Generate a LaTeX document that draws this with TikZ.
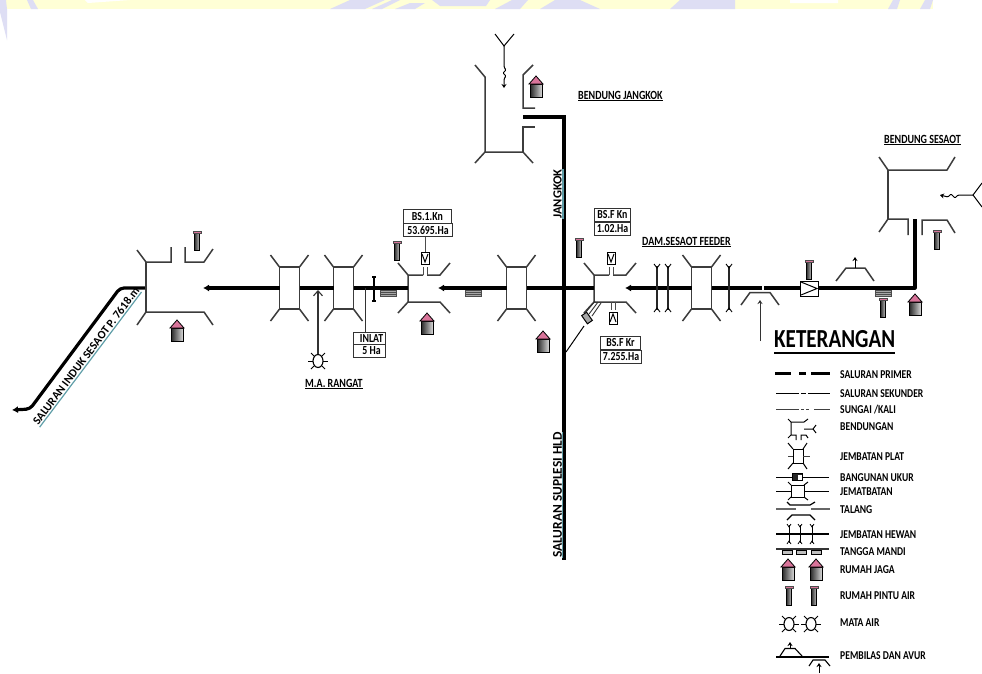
\documentclass[tikz,border=0pt]{standalone}
\usepackage{fontspec}
\usepackage{graphicx}
\setmainfont{Carlito}
\usetikzlibrary{arrows.meta}
\definecolor{wblue}{HTML}{DEDEF4}
\definecolor{wyel}{HTML}{FFFFD6}
\definecolor{pinkroof}{HTML}{D9749A}
\definecolor{strucol}{HTML}{3C3C3C}
\definecolor{ulteal}{HTML}{5F9EA8}
\newcommand{\tx}[1]{\scalebox{.8}[1]{#1}}
\tikzset{
  x=1pt,y=-1pt,
  primer/.style={line width=3.2pt,black},
  stru/.style={line width=1.5pt,strucol},
  lbl/.style={inner sep=0pt,font=\bfseries\fontsize{12.5}{12.5}\selectfont,text=black},
  boxlbl/.style={draw=black!80,line width=.8pt,fill=white,inner xsep=2pt,inner ysep=1pt,font=\fontsize{12.3}{12.3}\selectfont\bfseries,text=black,minimum height=13.5pt,anchor=west},
  head/.style={-{Latex[length=6pt,width=7pt]}},
  smallhead/.style={-{Stealth[length=4pt,width=5pt]}},
  pics/rumah/.style={code={
    \fill[left color=black!85,right color=white!85!black,draw=black,line width=.5pt] (-6,8) rectangle (6,21);
    \fill[pinkroof,draw=black,line width=.8pt] (0,0) -- (-7,8) -- (7,8) -- cycle;
  }},
  pics/pintu/.style={code={
    \fill[left color=black!80,right color=black!25,draw=black,line width=.5pt] (-2.5,2) rectangle (2.5,19);
    \fill[pinkroof,draw=black!70,line width=.4pt] (-4,0) rectangle (4,2.5);
  }},
  pics/mata/.style={code={
    \draw[line width=1.1pt,black] (0,0) ellipse (5 and 6.5);
    \draw[line width=1pt,black] (-4,-5) -- (-7,-8) (4,-5) -- (7,-8) (-4,5) -- (-7,8) (4,5) -- (7,8);
    \draw[line width=1pt,black] (-10,0) -- (-5,0) (5,0) -- (10,0);
  }},
  pics/jembatan/.style={code={
    \draw[stru] (-10,-21) rectangle (10,21);
    \draw[stru] (-10,-21) -- (-19,-33) (10,-21) -- (19,-33) (-10,21) -- (-19,33) (10,21) -- (19,33);
    \coordinate (-w) at (-10,0); \coordinate (-e) at (10,0);
  }},
  pics/bagi/.style={code={
    \draw[stru] (-10,-13) -- (-10,14) (-10,-13) -- (-20,-25) (-10,14) -- (-20,25);
    \draw[stru] (-10,14) -- (22,14) -- (32,25);
    \draw[stru] (-10,-13) -- (5,-13) (9,-13) -- (22,-13) -- (32,-25);
    \draw[line width=.9pt,black!70] (5,-13) -- (5,-21) (9,-13) -- (9,-21);
    \draw[black,line width=.8pt,fill=white] (3,-36) rectangle (11,-24);
    \draw[black,line width=1pt] (4,-34) -- (7,-26) -- (10,-34);
    \coordinate (-w) at (-10,0); \coordinate (-e) at (22,0); \coordinate (-n) at (7,-36);
  }},
  pics/tangga/.style={code={
    \fill[black!35,draw=black!70,line width=.6pt] (-8,0) rectangle (8,6);
    \draw[black!70,line width=.6pt] (-8,2) -- (8,2) (-8,4) -- (8,4);
  }},
  pics/tiang/.style={code={
    \draw[line width=1.1pt,black!85] (0,-22) -- (0,22);
    \draw[line width=.9pt,black] (-3,-24) -- (0,-20) -- (3,-24) (-3,24) -- (0,20) -- (3,24);
  }}
}
\newcommand{\ulab}[4]{\node[lbl,anchor=west] (#1) at (#2,#3) {\tx{#4}};
  \draw[black,line width=.9pt] ([yshift=-1.5pt]#1.south west) -- ([yshift=-1.5pt]#1.south east);}
\newcommand{\leglab}[3]{\node[lbl,anchor=west,font=\bfseries\fontsize{12}{12}\selectfont] (#1) at (840,#2+1) {\tx{#3}};}
\begin{document}
\begin{tikzpicture}
\useasboundingbox (0,0) rectangle (982,673);
% watermark remnants
\fill[white] (0,0) rectangle (982,673);
\fill[wyel] (0,0) rectangle (933,9);
\fill[white] (85,0) -- (130,0) -- (88,3) -- cycle (790,0) rectangle (838,3);
\fill[wblue] (0,0) -- (6,0) -- (7,9) -- (7,40) -- (0,12) -- cycle;
\fill[wblue] (27,0) -- (33,0) -- (38,9) -- (31,9) -- cycle;
\fill[wblue] (330,9) -- (350,0) -- (385,0) -- (365,9) -- cycle;
\fill[wblue] (372,9) -- (392,0) -- (400,0) -- (382,9) -- cycle;
\fill[wblue] (395,9) -- (410,3) -- (425,3) -- (415,9) -- cycle;
\fill[wblue] (432,0) -- (490,0) -- (486,6) -- (440,6) -- cycle;
\fill[wblue] (495,9) -- (512,0) -- (528,0) -- (520,9) -- cycle;
\fill[wblue] (540,9) -- (555,0) -- (580,0) -- (600,9) -- cycle;
\fill[wblue] (670,9) -- (680,0) -- (735,0) -- (735,9) -- cycle;
\fill[wblue] (888,9) -- (893,0) -- (900,0) -- (897,9) -- cycle;
\fill[wblue] (920,9) -- (925,0) -- (933,0) -- (930,9) -- cycle;

% ---- main primary canal ----
\coordinate (sesaotA) at (915,219);
\coordinate (sesaotB) at (915,288);
\coordinate (ukurE) at (818,288);
\coordinate (ukurW) at (800,288);
\coordinate (gap) at (763,288);
\coordinate (kiriA) at (120,288);
\coordinate (kiriB) at (30,409);
\coordinate (kiriC) at (12,410);
\coordinate (jkA) at (523,117);
\coordinate (jkB) at (564,117);
\coordinate (suplesi) at (564,560);

\pic (b1) at (289.5,288) {jembatan};
\pic (b2) at (343.5,288) {jembatan};
\pic (b3) at (516.5,288) {jembatan};
\pic (b4) at (701.5,288) {jembatan};
\pic (s1) at (418,288) {bagi};
\pic (s2) at (604,288) {bagi};

\draw[primer,line join=round] (ukurW) -- ([xshift=1pt]gap);
\draw[primer] ([xshift=-1pt]gap) -- (b4-e);
\draw[primer] (b4-w) -- ([xshift=21pt]s2-e);
\draw[primer,head] ([xshift=21pt]s2-e) -- ([xshift=-1pt]s2-e);
\draw[primer] (s2-w) -- (b3-e);
\draw[primer,head] (b3-w) -- ([xshift=-2pt]s1-e);
\draw[primer] (s1-w) -- (b2-e);
\draw[primer] (b2-w) -- (b1-e);
\draw[primer,head] (b1-w) -- (203,288);
\draw[primer,line join=round] (ukurE) -- (sesaotB) -- (sesaotA);
\draw[primer,rounded corners=4pt,line join=round,head] (146,288) -- (kiriA) -- (kiriB) -- (kiriC);
\draw[primer,line join=miter] (jkA) -- (jkB) -- (suplesi);

% ---- first structure, left ----
\draw[stru] (146,262) -- (146,312);
\draw[stru] (137,250) -- (146,262) -- (171,262) -- (171,247);
\draw[stru] (185,247) -- (185,262) -- (204,262) -- (213,249);
\draw[stru] (137,325) -- (146,312) -- (204,312) -- (213,325);
\pic at (177,320) {rumah};
\pic at (197,231) {pintu};

% ---- M.A. Rangat ----
\pic (mr) at (318,361) {mata};
\coordinate (mrT) at (318,290);
\draw[line width=1.1pt,black!80,-{Straight Barb[length=5pt,width=9pt]}] (318,354) -- (mrT);
\ulab{rangat}{305}{383}{M.A. RANGAT}

% ---- inlet ----
\draw[line width=1.1pt,black] (374,277) -- (374,301) (372,277) -- (376,277) (372,301) -- (376,301);
\pic at (388,290) {tangga};
\coordinate (inA) at (365,288);
\node[boxlbl,minimum width=32pt,inner xsep=0pt] (inlat1) at (353,339) {\tx{\ \ INLAT}};
\node[boxlbl,minimum width=32pt,inner xsep=0pt] (inlat2) at (353,351) {\tx{\ \ 5 Ha}};
\draw[line width=.9pt,black!80] (inA) -- (365,332);

% ---- BS.1 ----
\node[boxlbl,minimum width=48pt,inner xsep=4pt] (bs1a) at (403,216.5) {\tx{BS.1.Kn}};
\node[boxlbl,minimum width=48pt,inner xsep=4pt] (bs1b) at (403,230) {\tx{53.695.Ha}};
\draw[line width=.8pt,black!70] (bs1b.south -| s1-n) -- (s1-n);
\pic at (397,241) {pintu};
\pic at (427,313) {rumah};
\pic at (473,290) {tangga};
\pic at (543,331) {rumah};

% ---- BS.F ----
\node[boxlbl,minimum width=36pt,inner xsep=2.5pt] (bsfa) at (594,215) {\tx{BS.F Kn}};
\node[boxlbl,minimum width=36pt,inner xsep=2.5pt] (bsfb) at (594,229) {\tx{1.02.Ha}};
\node[boxlbl,minimum width=40pt,inner xsep=2.5pt] (bsra) at (600,343) {\tx{BS.F Kr}};
\node[boxlbl,minimum width=40pt,inner xsep=2.5pt] (bsrb) at (600,357) {\tx{7.255.Ha}};
\pic at (579,238) {pintu};
\draw[line width=.9pt,black!70] (611,302) -- (611,310) (615,302) -- (615,310);
\draw[black,line width=.8pt,fill=white] (609,312) rectangle (617,324);
\draw[black,line width=1pt] (610,322) -- (613,314) -- (616,322);
\coordinate (sdA) at (566,352);
\coordinate (sdB) at (584,326);
\draw[line width=1pt,black] (sdA) -- (sdB);
\draw[line width=1pt,black,fill=black!35,rotate around={-55:(587,318)}] (582,315) rectangle (592,321);
\draw[line width=.9pt,black!80] (586,312) -- (595,301) (589,314) -- (598,302) (592,316) -- (601,303);

% ---- feeder ----
\ulab{feeder}{642}{241}{DAM.SESAOT FEEDER}
\pic at (657,288) {tiang};
\pic at (668,288) {tiang};
\pic at (729,288) {tiang};
\draw[stru] (741,305) -- (750,292.5) -- (770,292.5) -- (779,305);
\coordinate (talA) at (760,341);
\draw[line width=.9pt,black!80,smallhead] (talA) -- (760,300);

% ---- ukur + pembilas ----
\draw[line width=1pt,black,fill=white] (ukurW |- 0,281) rectangle (ukurE |- 0,296);
\draw[line width=1pt,black] (801,282) -- (817,288.5) -- (801,295);
\pic at (809,260) {pintu};
\draw[stru] (836,281) -- (846,268) -- (865,268) -- (874,281);
\draw[line width=1pt,black,smallhead] (855,268) -- (855,257);
\pic at (883,290) {tangga};
\pic at (883,298) {pintu};
\pic at (915,294) {rumah};

% ---- bendung sesaot ----
\ulab{bsesaot}{884}{139}{BENDUNG SESAOT}
\draw[stru] (879,157) -- (888,170) -- (947,170) -- (955,157);
\draw[stru] (888,170) -- (888,219);
\draw[stru] (879,232) -- (888,219) -- (908,219) -- (908,235);
\draw[stru] (922,235) -- (922,220) -- (947,220) -- (955,233);
\pic at (937,230) {pintu};
\draw[line width=1pt,black] (982,183) -- (973,195) -- (982,207);
\draw[line width=1pt,black,smallhead,rounded corners=1pt] (973,195) -- (958,195) -- (955,198) -- (951,194) -- (948,197) -- (940,195);

% ---- bendung jangkok ----
\ulab{bjangkok}{578}{95}{BENDUNG JANGKOK}
\draw[stru] (475,65) -- (485,77) -- (485,152) -- (475,163);
\draw[stru] (485,152) -- (523,152) -- (533,163);
\draw[stru] (523,152) -- (523,127) -- (535,127);
\draw[stru] (535,108) -- (523,108) -- (523,75) -- (533,65);
\draw[line width=1pt,black] (495,34) -- (504,46) -- (514,34);
\draw[line width=1pt,black,smallhead,rounded corners=1pt] (504,46) -- (504,67) -- (506,70) -- (503,73) -- (506,76) -- (504,79) -- (504,88);
\pic at (536,76) {rumah};

% ---- rotated labels ----
\node[lbl,rotate=90] (jangkok) at (557.5,194) {JANGKOK};
\draw[ulteal,line width=1.4pt] ([xshift=1pt]jangkok.south west) -- ([xshift=1pt]jangkok.south east);
\node[lbl,rotate=90,font=\bfseries\fontsize{13.4}{13.4}\selectfont] (suplesilab) at (557.5,495) {SALURAN SUPLESI HLD};
\draw[ulteal,line width=1.2pt] ([xshift=.5pt]suplesilab.south west) -- ([xshift=.5pt]suplesilab.south east);
\node[lbl,rotate=53,font=\bfseries\fontsize{11.6}{11.6}\selectfont] (induk) at (86,356) {SALURAN INDUK SESAOT P. 7618.m};
\draw[ulteal,line width=1.2pt] ([shift={(1.2pt,-1pt)}]induk.south west) -- ([shift={(1.2pt,-1pt)}]induk.south east);

% ---- legend ----
\node[inner sep=0pt,anchor=west,font=\bfseries\fontsize{26}{26}\selectfont,text=black] (ket) at (774,339) {\scalebox{.81}[1]{KETERANGAN}};
\draw[black,line width=1.2pt] (ket.south west |- 0,353) -- (ket.south east |- 0,353);

\leglab{l1}{374}{SALURAN PRIMER}
\leglab{l2}{393}{SALURAN SEKUNDER}
\leglab{l3}{409}{SUNGAI /KALI}
\leglab{l4}{426}{BENDUNGAN}
\leglab{l5}{456}{JEMBATAN PLAT}
\leglab{l6}{477}{BANGUNAN UKUR}
\leglab{l7}{491}{JEMATBATAN}
\leglab{l8}{509}{TALANG}
\leglab{l9}{534}{JEMBATAN HEWAN}
\leglab{l10}{551}{TANGGA MANDI}
\leglab{l11}{569}{RUMAH JAGA}
\leglab{l12}{595}{RUMAH PINTU AIR}
\leglab{l13}{622}{MATA AIR}
\leglab{l14}{655}{PEMBILAS DAN AVUR}

% legend lines
\draw[line width=3pt,black] (775,373) -- (791,373) (799,373) -- (806,373) (811,373) -- (830,373);
\draw[line width=.9pt,black] (776,393) -- (799,393) (801,393) -- (806,393) (808,393) -- (830,393);
\draw[line width=.9pt,black!75] (776,409) -- (799,409) (801,409) -- (804,409) (806,409) -- (809,409) (814,409) -- (830,409);
% bendungan
\draw[line width=1pt,black] (788,419) -- (791,422) -- (804,422) -- (808,419);
\draw[line width=1pt,black] (791,422) -- (791,435) -- (788,438) (791,435) -- (796,435) -- (796,440);
\draw[line width=1pt,black] (801,440) -- (801,435) -- (806,435) -- (808,438);
\draw[line width=1pt,black] (804,429) -- (813,429) (816,425) -- (813,429) -- (816,433);
% jembatan plat
\draw[line width=1pt,black] (793,449) rectangle (803,463);
\draw[line width=1pt,black] (793,449) -- (788,443) (803,449) -- (807,443) (793,463) -- (788,469) (803,463) -- (807,469);
\draw[line width=.9pt,black!75] (788,456) -- (793,456) (803,456) -- (810,456);
% bangunan ukur
\draw[line width=.9pt,black] (776,477) -- (829,477);
\draw[fill=black!85,draw=black] (792,473.5) rectangle (802,480.5);
\draw[fill=white,draw=white,line width=.3pt] (798,475) rectangle (801,479);
% jematbatan
\draw[line width=.9pt,black] (776,491) -- (791,491) (804,491) -- (829,491);
\draw[line width=1pt,black] (791,485) rectangle (804,497);
\draw[line width=1pt,black] (791,485) -- (788,482) (804,485) -- (808,482) (791,497) -- (788,500) (804,497) -- (808,500);
% talang
\draw[line width=1.2pt,black] (787,502) -- (790,505) -- (810,505) -- (815,502);
\draw[line width=1.2pt,black!60] (776,509) -- (796,509) (811,509) -- (830,509);
% jembatan hewan
\draw[line width=1.2pt,black] (787,520) -- (792,515) -- (810,515) -- (815,520);
\draw[line width=1.1pt,black] (776,534) -- (829,534);
\foreach \px in {789,800,812}{
  \draw[line width=1pt,black] (\px,525) -- (\px,543);
  \draw[line width=.8pt,black] (\px-2,524) -- (\px,527) -- (\px+2,524) (\px-2,544) -- (\px,541) -- (\px+2,544);
}
% tangga mandi
\draw[line width=1.2pt,black!80] (776,549) -- (829,549);
\foreach \px in {787,801,816}{\draw[line width=.7pt,black,fill=black!25] (\px-5,550) rectangle (\px+5,554.5);}
% others
\pic at (788,559) {rumah};
\pic at (816,559) {rumah};
\pic at (789,586) {pintu};
\pic at (814,586) {pintu};
\pic at (789,624) {mata};
\pic at (811,624) {mata};
% pembilas
\draw[line width=1.1pt,black] (776,657) -- (829,657);
\draw[line width=1.1pt,black] (780,656) -- (785,648.5) -- (795,648.5) -- (802,656);
\draw[line width=1pt,black,smallhead] (790,648) -- (790,642);
\draw[line width=1.1pt,black] (809,666) -- (813,660) -- (825,660) -- (830,666);
\draw[line width=1pt,black,smallhead] (819,673) -- (819,663);
\end{tikzpicture}
\end{document}
